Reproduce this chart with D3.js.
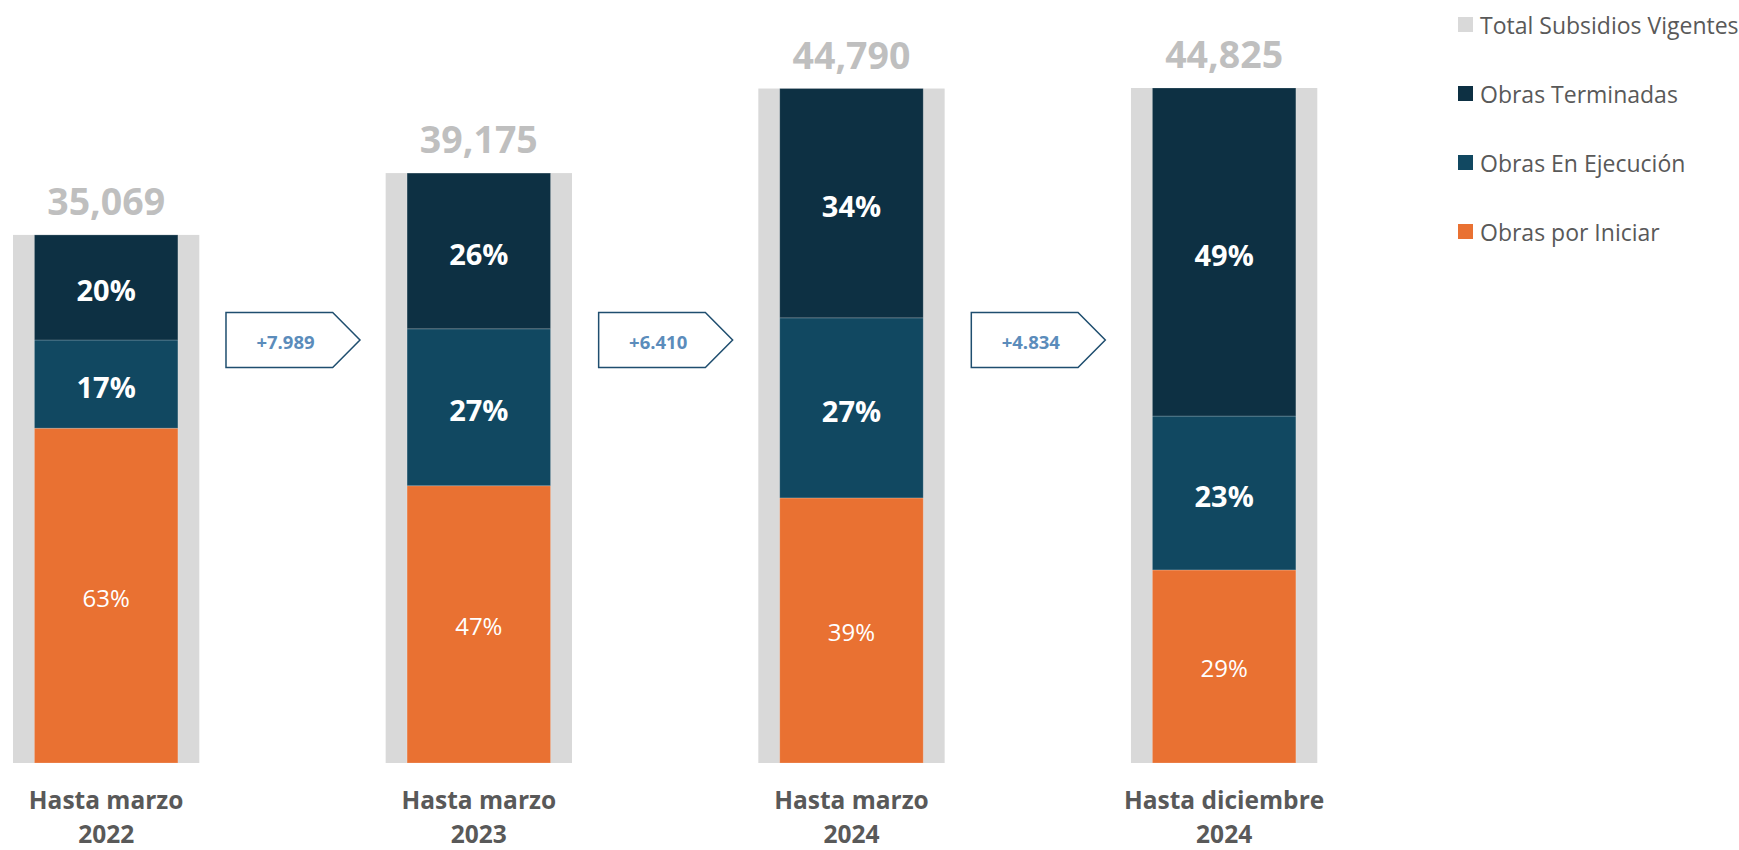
<!DOCTYPE html>
<html>
<head>
<meta charset="utf-8">
<script src="https://cdn.jsdelivr.net/npm/d3@7"></script>
<style>
  html, body { margin: 0; padding: 0; background: #ffffff; }
  svg { display: block; font-family: "Open Sans", "Noto Sans", sans-serif; }
</style>
</head>
<body>
<svg id="chart" width="1739" height="850"></svg>
<script>
// ---- data ----
const categories = ["Hasta marzo|2022", "Hasta marzo|2023", "Hasta marzo|2024", "Hasta diciembre|2024"];
const totals = [35069, 39175, 44790, 44825];
const porIniciar = [63.4, 47.0, 39.3, 28.6];   // % of total
const enEjecucion = [16.7, 26.6, 26.7, 22.8];  // % of total
const terminadas = [19.9, 26.4, 34.0, 48.6];   // % of total
const increments = ["+7.989", "+6.410", "+4.834"];
const legendLabels = ["Total Subsidios Vigentes", "Obras Terminadas", "Obras En Ejecución", "Obras por Iniciar"];

const colors = {
  total: "#D9D9D9",
  terminadas: "#0D3043",
  ejecucion: "#114861",
  iniciar: "#E97132"
};

const svg = d3.select("#chart");

const x = d3.scaleBand()
  .domain(categories)
  .range([13, 1317.3])
  .paddingInner(0.5)
  .paddingOuter(0);

const y = d3.scaleLinear()
  .domain([0, d3.max(totals)])
  .range([763, 88]);

const innerW = x.bandwidth() * 0.77;
const innerOff = (x.bandwidth() - innerW) / 2;

const rows = categories.map((c, i) => ({
  cat: c,
  total: totals[i],
  segs: [
    { key: "iniciar", pct: porIniciar[i] },
    { key: "ejecucion", pct: enEjecucion[i] },
    { key: "terminadas", pct: terminadas[i] }
  ]
}));

// stacked segments
rows.forEach(r => {
  let acc = 0;
  r.segs.forEach(s => {
    s.y0 = r.total * acc / 100;
    acc += s.pct;
    s.y1 = r.total * acc / 100;
  });
});

const g = svg.append("g");

// grey total bars
g.selectAll("rect.total")
  .data(rows)
  .join("rect")
  .attr("class", "total")
  .attr("x", d => x(d.cat))
  .attr("width", x.bandwidth())
  .attr("y", d => y(d.total))
  .attr("height", d => y(0) - y(d.total))
  .attr("fill", colors.total);

// stacked inner bars
const barG = g.selectAll("g.bar")
  .data(rows)
  .join("g")
  .attr("class", "bar");

barG.selectAll("rect")
  .data(d => d.segs.map(s => ({ ...s, cat: d.cat })))
  .join("rect")
  .attr("x", d => x(d.cat) + innerOff)
  .attr("width", innerW)
  .attr("y", d => y(d.y1))
  .attr("height", d => y(d.y0) - y(d.y1))
  .attr("fill", d => colors[d.key])
  .attr("stroke", "rgba(255,255,255,0.25)")
  .attr("stroke-width", 0.8);

barG.selectAll("text")
  .data(d => d.segs.map(s => ({ ...s, cat: d.cat })))
  .join("text")
  .attr("x", d => x(d.cat) + x.bandwidth() / 2)
  .attr("y", d => (y(d.y0) + y(d.y1)) / 2)
  .attr("dy", d => d.key === "iniciar" ? 1.5 : 2.5)
  .attr("text-anchor", "middle")
  .attr("dominant-baseline", "central")
  .attr("fill", "#ffffff")
  .attr("font-size", d => d.key === "iniciar" ? 24 : 29)
  .attr("font-weight", d => d.key === "iniciar" ? 400 : 700)
  .text(d => Math.round(d.pct) + "%");

// total labels
const fmtTotal = d3.format(",");
g.selectAll("text.totalLabel")
  .data(rows)
  .join("text")
  .attr("class", "totalLabel")
  .attr("x", d => x(d.cat) + x.bandwidth() / 2)
  .attr("y", d => y(d.total) - 20)
  .attr("text-anchor", "middle")
  .attr("fill", "#BFBFBF")
  .attr("font-size", 37.5)
  .attr("font-weight", 700)
  .text(d => fmtTotal(d.total));

// category labels
const catG = g.selectAll("text.cat")
  .data(rows)
  .join("text")
  .attr("class", "cat")
  .attr("x", d => x(d.cat) + x.bandwidth() / 2)
  .attr("y", 809)
  .attr("text-anchor", "middle")
  .attr("fill", "#595959")
  .attr("font-size", 24.5)
  .attr("font-weight", 700);
catG.selectAll("tspan")
  .data(d => d.cat.split("|").map(t => ({ t, cx: x(d.cat) + x.bandwidth() / 2 })))
  .join("tspan")
  .attr("x", d => d.cx)
  .attr("dy", (d, i) => i === 0 ? 0 : 34)
  .text(d => d.t);

// increment arrows between bars
const arrowW = 134, arrowBody = 106.7, arrowH = 55;
const arrows = increments.map((t, i) => {
  const right = x(categories[i]) + x.bandwidth();
  const left = x(categories[i + 1]);
  return { t, cx: (right + left) / 2 };
});
const arrowCY = 340;
const aG = g.selectAll("g.arrow")
  .data(arrows)
  .join("g")
  .attr("class", "arrow");
aG.append("path")
  .attr("d", d => {
    const l = d.cx - arrowW / 2 + 0.5;
    const t = arrowCY - arrowH / 2;
    return `M${l},${t} L${l + arrowBody},${t} L${l + arrowW},${arrowCY} L${l + arrowBody},${t + arrowH} L${l},${t + arrowH} Z`;
  })
  .attr("fill", "#ffffff")
  .attr("stroke", "#1F4E6F")
  .attr("stroke-width", 1.5);
aG.append("text")
  .attr("x", d => d.cx - arrowW / 2 + 60)
  .attr("y", arrowCY)
  .attr("dy", 1)
  .attr("text-anchor", "middle")
  .attr("dominant-baseline", "central")
  .attr("fill", "#5B8CBB")
  .attr("font-size", 18.5)
  .attr("font-weight", 700)
  .text(d => d.t);

// legend
const legendColors = [colors.total, colors.terminadas, colors.ejecucion, colors.iniciar];
const lg = svg.append("g").attr("transform", "translate(1458,0)");
const li = lg.selectAll("g")
  .data(legendLabels)
  .join("g")
  .attr("transform", (d, i) => `translate(0,${24.5 + i * 69})`);
li.append("rect")
  .attr("x", 0).attr("y", -7.5)
  .attr("width", 15).attr("height", 15)
  .attr("fill", (d, i) => legendColors[i]);
li.append("text")
  .attr("x", 22)
  .attr("y", 0)
  .attr("dominant-baseline", "central")
  .attr("fill", "#595959")
  .attr("font-size", 23)
  .text(d => d);
</script>
</body>
</html>
